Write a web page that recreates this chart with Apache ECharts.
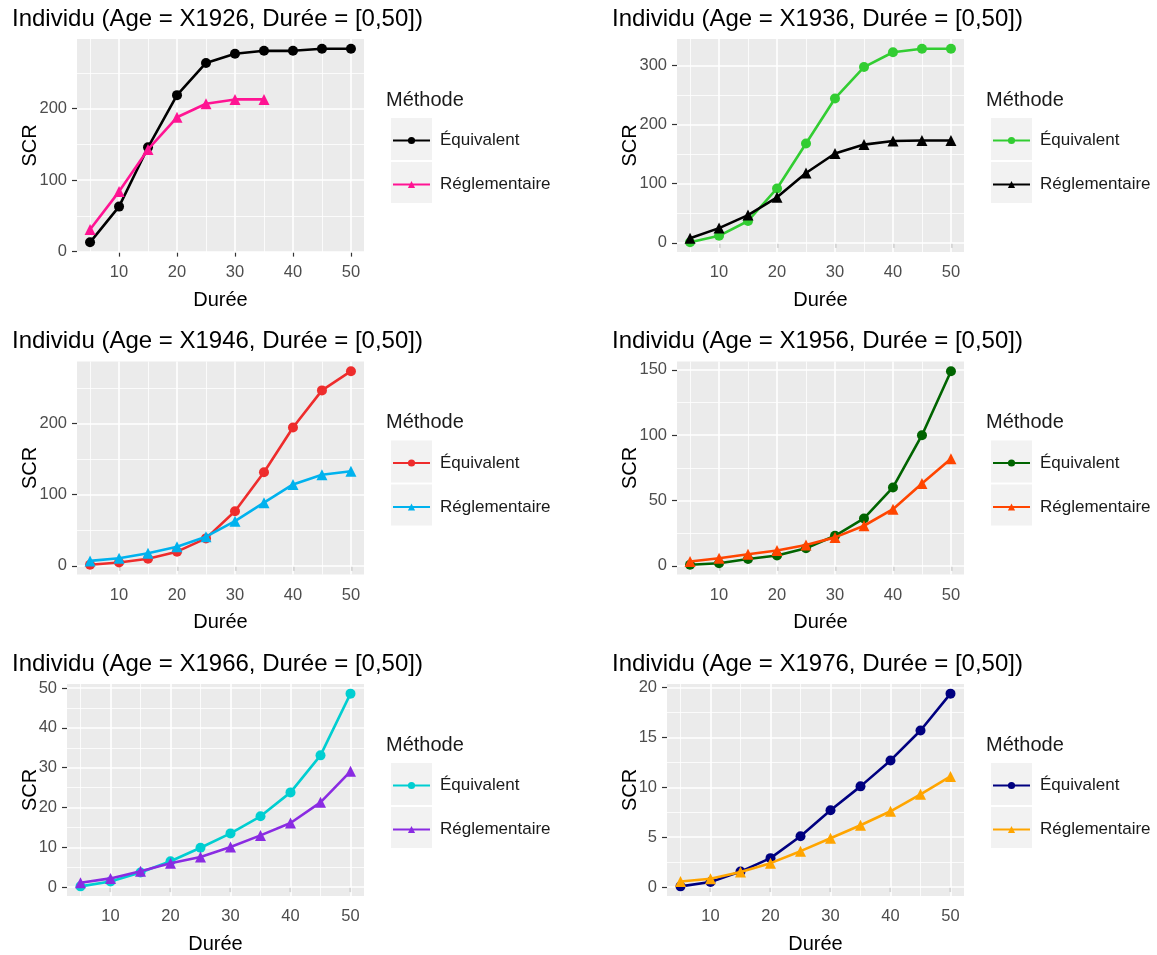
<!DOCTYPE html>
<html>
<head>
<meta charset="utf-8">
<script src="https://cdn.jsdelivr.net/npm/echarts@6/dist/echarts.min.js"></script>
<style>
html,body{margin:0;padding:0;background:#fff;}
#chart{width:1157px;height:955px;}
</style>
</head>
<body>
<div id="chart"></div>
<script>
// ---------- data ----------
const durations = [5, 10, 15, 20, 25, 30, 35, 40, 45, 50];
const xBreaks = [10, 20, 30, 40, 50];
const xMinor = [5, 15, 25, 35, 45];

const eq1926 = [13, 63, 146, 219, 264, 277, 281, 281, 284, 284];
const reg1926 = [31, 84, 143, 188, 207, 213, 213];
const eq1936 = [1, 12, 37, 92, 168, 244, 297, 322, 328, 328];
const reg1936 = [8, 25, 47, 77, 118, 151, 166, 172, 173, 173];
const eq1946 = [1.5, 4.7, 10, 20, 38.6, 76.7, 131.6, 194.4, 246.5, 273.5];
const reg1946 = [7, 10.7, 17.7, 27, 41, 62.8, 88.8, 114.4, 128, 133];
const eq1956 = [0.8, 2, 5.3, 7.9, 13.5, 23, 36.3, 60, 100, 149];
const reg1956 = [3.3, 5.8, 8.9, 11.7, 16, 21.8, 30.7, 43.4, 63, 82];
const eq1966 = [0.2, 1.4, 3.7, 6.5, 9.9, 13.5, 17.8, 23.8, 33.1, 48.6];
const reg1966 = [1.1, 2.2, 4, 6, 7.6, 10.1, 13, 16.1, 21.3, 29.1];
const eq1976 = [0.07, 0.5, 1.55, 2.9, 5.1, 7.7, 10.1, 12.7, 15.7, 19.4];
const reg1976 = [0.56, 0.83, 1.5, 2.4, 3.6, 4.9, 6.2, 7.6, 9.3, 11.1];

const yBreaks1926 = [0, 100, 200];
const yMinor1926 = [50, 150, 250];
const yBreaks1936 = [0, 100, 200, 300];
const yMinor1936 = [50, 150, 250];
const yBreaks1946 = [0, 100, 200];
const yMinor1946 = [50, 150, 250];
const yBreaks1956 = [0, 50, 100, 150];
const yMinor1956 = [25, 75, 125];
const yBreaks1966 = [0, 10, 20, 30, 40, 50];
const yMinor1966 = [5, 15, 25, 35, 45];
const yBreaks1976 = [0, 5, 10, 15, 20];
const yMinor1976 = [2.5, 7.5, 12.5, 17.5];

const titles = [
  'Individu (Age = X1926, Durée = [0,50])',
  'Individu (Age = X1936, Durée = [0,50])',
  'Individu (Age = X1946, Durée = [0,50])',
  'Individu (Age = X1956, Durée = [0,50])',
  'Individu (Age = X1966, Durée = [0,50])',
  'Individu (Age = X1976, Durée = [0,50])'
];
const seriesNames = ['Équivalent', 'Réglementaire'];
const legendTitle = 'Méthode';
const xTitle = 'Durée';
const yTitle = 'SCR';

const colors1926 = ['#000000', '#FF1493'];
const colors1936 = ['#32CD32', '#000000'];
const colors1946 = ['#EE2C2C', '#00B2EE'];
const colors1956 = ['#006400', '#FF4500'];
const colors1966 = ['#00CED1', '#8A2BE2'];
const colors1976 = ['#000080', '#FFA500'];

const panels = [
  {title: titles[0], eq: eq1926, reg: reg1926, yb: yBreaks1926, ym: yMinor1926, col: colors1926},
  {title: titles[1], eq: eq1936, reg: reg1936, yb: yBreaks1936, ym: yMinor1936, col: colors1936},
  {title: titles[2], eq: eq1946, reg: reg1946, yb: yBreaks1946, ym: yMinor1946, col: colors1946},
  {title: titles[3], eq: eq1956, reg: reg1956, yb: yBreaks1956, ym: yMinor1956, col: colors1956},
  {title: titles[4], eq: eq1966, reg: reg1966, yb: yBreaks1966, ym: yMinor1966, col: colors1966},
  {title: titles[5], eq: eq1976, reg: reg1976, yb: yBreaks1976, ym: yMinor1976, col: colors1976}
];

// ---------- layout ----------
const FONT = '"Liberation Sans", Arial, sans-serif';
const rowOffsets = [0, 322.5, 645];
const plotTop = 39, plotH = 213, plotRight = 364;
const xMin = 2.75, xMax = 52.25;

const option = {
  animation: false,
  backgroundColor: '#ffffff',
  textStyle: {fontFamily: FONT},
  title: [], grid: [], xAxis: [], yAxis: [], series: [], legend: [],
  graphic: [{type: 'group', children: []}]
};

const strip = s => s.replace(/\u200B/g, '');

panels.forEach((p, i) => {
  const col = i % 2, row = Math.floor(i / 2);
  const ox = 600 * col, oy = rowOffsets[row];
  const maxLen = Math.max(...p.yb.map(v => String(v).length));
  const plotLeft = 77 - (3 - maxLen) * 10;

  const all = p.eq.concat(p.reg);
  const lo = Math.min(...all), hi = Math.max(...all);
  const pad = (hi - lo) * 0.05;

  option.title.push({
    text: p.title, left: 12 + ox, top: 7 + oy, padding: 0,
    textStyle: {fontSize: 24, fontWeight: 'normal', color: '#000', fontFamily: FONT}
  });
  option.title.push({
    text: legendTitle, left: 386 + ox, top: 90 + oy, padding: 0,
    textStyle: {fontSize: 20, fontWeight: 'normal', color: '#1A1A1A', fontFamily: FONT}
  });

  option.grid.push({
    left: plotLeft + ox, top: plotTop + oy, width: plotRight - plotLeft, height: plotH,
    show: true, backgroundColor: '#EBEBEB', borderWidth: 0
  });

  const tickStyle = {color: '#333333', width: 1.2};
  option.xAxis.push({
    gridIndex: i, type: 'value', min: xMin, max: xMax,
    axisLine: {show: false},
    axisTick: {show: true, customValues: xBreaks, length: 5, lineStyle: tickStyle},
    axisLabel: {customValues: xBreaks, margin: 12, fontSize: 16.5, color: '#4D4D4D', fontFamily: FONT},
    splitLine: {show: false},
    name: xTitle, nameLocation: 'middle', nameGap: 38, nameMoveOverlap: false,
    nameTextStyle: {fontSize: 20, color: '#000', fontFamily: FONT}
  });
  option.yAxis.push({
    gridIndex: i, type: 'value', min: lo - pad, max: hi + pad,
    axisLine: {show: false},
    axisTick: {show: true, customValues: p.yb, length: 5, lineStyle: tickStyle},
    axisLabel: {customValues: p.yb, margin: 10, fontSize: 16.5, color: '#4D4D4D', fontFamily: FONT},
    splitLine: {show: false},
    name: yTitle, nameLocation: 'middle', nameRotate: 90, nameGap: plotLeft - 40, nameMoveOverlap: false,
    nameTextStyle: {fontSize: 20, color: '#000', fontFamily: FONT}
  });

  // gridlines (through the axis scales)
  const gl = [];
  xMinor.forEach(v => gl.push({xAxis: v, lineStyle: {width: 0.8}}));
  p.ym.forEach(v => { if (v > lo - pad && v < hi + pad) gl.push({yAxis: v, lineStyle: {width: 0.8}}); });
  xBreaks.forEach(v => gl.push({xAxis: v, lineStyle: {width: 1.6}}));
  p.yb.forEach(v => gl.push({yAxis: v, lineStyle: {width: 1.6}}));
  option.series.push({
    type: 'line', name: 'grid' + i, xAxisIndex: i, yAxisIndex: i, data: [], silent: true, z: 1,
    markLine: {
      silent: true, symbol: ['none', 'none'], label: {show: false}, z: 1,
      emphasis: {disabled: true},
      lineStyle: {color: '#ffffff', type: 'solid'},
      data: gl
    }
  });

  const names = seriesNames.map(n => n + '\u200B'.repeat(i));
  const mk = (vals, k, sym, size) => ({
    type: 'line', name: names[k], xAxisIndex: i, yAxisIndex: i, z: 3 + k,
    data: vals.map((v, j) => [durations[j], v]),
    symbol: sym, symbolSize: size, showSymbol: true,
    lineStyle: {width: 2.6, color: p.col[k]},
    itemStyle: {color: p.col[k]},
    emphasis: {disabled: true}
  });
  option.series.push(mk(p.eq, 0, 'circle', 10));
  option.series.push(mk(p.reg, 1, 'triangle', 11));

  option.legend.push({
    left: 392 + ox, top: 132 + oy, orient: 'vertical', padding: 0,
    itemWidth: 37, itemHeight: 9, itemGap: 27,
    selectedMode: false, data: names, formatter: strip,
    textStyle: {fontSize: 17, color: '#1A1A1A', fontFamily: FONT, padding: [0, 0, 0, 5]}
  });

  option.graphic[0].children.push(
    {type: 'rect', shape: {x: 391 + ox, y: 118 + oy, width: 41, height: 42}, style: {fill: '#F2F2F2'}, silent: true},
    {type: 'rect', shape: {x: 391 + ox, y: 162 + oy, width: 41, height: 41}, style: {fill: '#F2F2F2'}, silent: true}
  );
});

const chart = echarts.init(document.getElementById('chart'), null, {renderer: 'canvas'});
chart.setOption(option);
</script>
</body>
</html>
